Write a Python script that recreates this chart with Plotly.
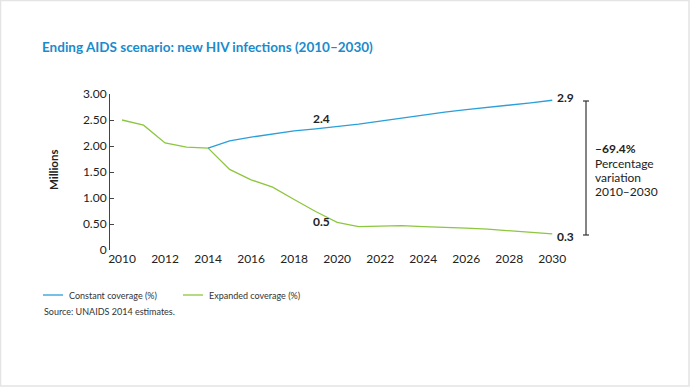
import plotly.graph_objects as go

years = list(range(2010, 2031))
expanded = [2.50, 2.40, 2.06, 1.98, 1.96, 1.55, 1.35, 1.21, 0.97, 0.74, 0.53, 0.45, 0.46, 0.47, 0.45, 0.44, 0.42, 0.40, 0.37, 0.34, 0.31]
constant_years = list(range(2014, 2031))
constant = [1.96, 2.10, 2.17, 2.23, 2.29, 2.33, 2.37, 2.42, 2.48, 2.54, 2.60, 2.65, 2.70, 2.74, 2.78, 2.83, 2.88]
ytickvals = [0, 0.5, 1.0, 1.5, 2.0, 2.5, 3.0]
yticktext = ["0", "0.50", "1.00", "1.50", "2.00", "2.50", "3.00"]
xtickvals = list(range(2010, 2031, 2))

W, H = 690, 387
L, R, T, B = 110, 127, 94, 137
PW, PH = W - L - R, H - T - B

def px(x):
    return (x - L) / PW

def py(y):
    return (H - B - y) / PH

BLUE = "#2a9fd8"
GREEN = "#8dc63f"
FONT = "Lato, 'Open Sans', sans-serif"
TXT = "#222222"

fig = go.Figure()
fig.add_trace(go.Scatter(x=years, y=expanded, mode="lines", name="Expanded coverage (%)",
                         line=dict(color=GREEN, width=1.3), showlegend=False))
fig.add_trace(go.Scatter(x=constant_years, y=constant, mode="lines", name="Constant coverage (%)",
                         line=dict(color=BLUE, width=1.3), showlegend=False))

fig.update_layout(
    width=W, height=H, paper_bgcolor="white", plot_bgcolor="white",
    margin=dict(l=L, r=R, t=T, b=B),
    font=dict(family=FONT, color=TXT, size=11),
    xaxis=dict(range=[2009.44, 2030.5], tickvals=xtickvals, showgrid=False, zeroline=False,
               showline=False, ticks="", tickfont=dict(size=12, color=TXT)),
    yaxis=dict(range=[0, 3], tickvals=ytickvals, ticktext=yticktext, showgrid=False, zeroline=False,
               showline=True, linecolor="#444444", linewidth=1, ticks="inside", ticklen=4,
               tickcolor="#444444", tickfont=dict(size=12, color=TXT)),
)

ann = []
ann.append(dict(text="Ending AIDS scenario: new HIV infections (2010–2030)", xref="paper", yref="paper",
                x=px(40), y=py(47), xanchor="left", yanchor="middle", showarrow=False,
                font=dict(size=13.5, color="#1a8bcc", family=FONT, weight="bold")))
ann.append(dict(text="<b>Millions</b>", xref="paper", yref="paper", x=px(53), y=py(170),
                xanchor="center", yanchor="middle", textangle=-90, showarrow=False,
                font=dict(size=11.5, color=TXT)))
for txt, xx, yy in [("2.4", 321, 118), ("0.5", 321, 221), ("2.9", 565, 97), ("0.3", 565, 236)]:
    ann.append(dict(text="<b>%s</b>" % txt, x=px(xx), y=py(yy), xref="paper", yref="paper", showarrow=False,
                    xanchor="center", yanchor="middle", font=dict(size=12, color=TXT)))
for i, line in enumerate(["<b>–69.4%</b>", "Percentage", "variation", "2010–2030"]):
    ann.append(dict(text=line, xref="paper", yref="paper", x=px(593), y=py([148, 163, 177, 191][i]),
                    xanchor="left", yanchor="middle", align="left", showarrow=False,
                    font=dict(size=12, color=TXT)))
ann.append(dict(text="Constant coverage (%)", xref="paper", yref="paper", x=px(67), y=py(295),
                xanchor="left", yanchor="middle", showarrow=False, font=dict(size=9, color="#333333")))
ann.append(dict(text="Expanded coverage (%)", xref="paper", yref="paper", x=px(207), y=py(295),
                xanchor="left", yanchor="middle", showarrow=False, font=dict(size=9, color="#333333")))
ann.append(dict(text="Source: UNAIDS 2014 estimates.", xref="paper", yref="paper", x=px(42), y=py(311),
                xanchor="left", yanchor="middle", showarrow=False, font=dict(size=9, color="#333333")))
fig.update_layout(annotations=ann)

shapes = []
# frame
shapes.append(dict(type="rect", xref="paper", yref="paper", x0=px(0.5), x1=px(W - 1), y0=py(0.5), y1=py(H - 1),
                   line=dict(color="#e4e4e4", width=1.5), fillcolor="rgba(0,0,0,0)", layer="below"))
# bracket
bx, by0, by1 = 586, 101, 235
shapes.append(dict(type="line", xref="paper", yref="paper", x0=px(bx), x1=px(bx), y0=py(by0), y1=py(by1),
                   line=dict(color="#333333", width=1.2)))
for yy in (by0, by1):
    shapes.append(dict(type="line", xref="paper", yref="paper", x0=px(bx - 3), x1=px(bx + 3), y0=py(yy), y1=py(yy),
                       line=dict(color="#333333", width=1.2)))
# legend lines
shapes.append(dict(type="line", xref="paper", yref="paper", x0=px(43), x1=px(63), y0=py(295), y1=py(295),
                   line=dict(color=BLUE, width=1.3)))
shapes.append(dict(type="line", xref="paper", yref="paper", x0=px(183), x1=px(203), y0=py(295), y1=py(295),
                   line=dict(color=GREEN, width=1.3)))
fig.update_layout(shapes=shapes)

fig.write_html("out.html", config={"displayModeBar": False},
               post_script="document.body.style.margin='0';")
